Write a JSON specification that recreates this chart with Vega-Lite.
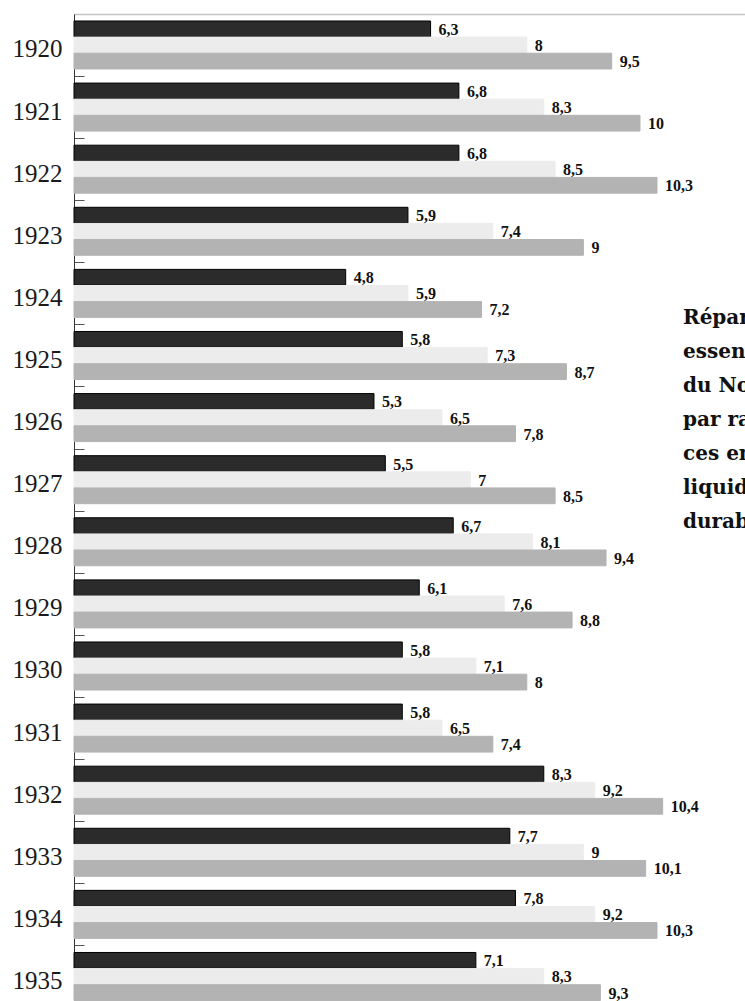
{
  "$schema": "https://vega.github.io/schema/vega-lite/v6.json",
  "width": 671,
  "height": 987,
  "autosize": {"type": "none"},
  "padding": {"left": 74, "top": 14, "right": 0, "bottom": 0},
  "background": "white",
  "config": {
    "view": {"stroke": null},
    "locale": {"number": {"decimal": ",", "thousands": ".", "grouping": [3], "currency": ["", " €"]}}
  },
  "data": {
    "values": [
      {"annee": "1920", "serie": "A", "valeur": 6.3}, {"annee": "1920", "serie": "B", "valeur": 8}, {"annee": "1920", "serie": "C", "valeur": 9.5},
      {"annee": "1921", "serie": "A", "valeur": 6.8}, {"annee": "1921", "serie": "B", "valeur": 8.3}, {"annee": "1921", "serie": "C", "valeur": 10},
      {"annee": "1922", "serie": "A", "valeur": 6.8}, {"annee": "1922", "serie": "B", "valeur": 8.5}, {"annee": "1922", "serie": "C", "valeur": 10.3},
      {"annee": "1923", "serie": "A", "valeur": 5.9}, {"annee": "1923", "serie": "B", "valeur": 7.4}, {"annee": "1923", "serie": "C", "valeur": 9},
      {"annee": "1924", "serie": "A", "valeur": 4.8}, {"annee": "1924", "serie": "B", "valeur": 5.9}, {"annee": "1924", "serie": "C", "valeur": 7.2},
      {"annee": "1925", "serie": "A", "valeur": 5.8}, {"annee": "1925", "serie": "B", "valeur": 7.3}, {"annee": "1925", "serie": "C", "valeur": 8.7},
      {"annee": "1926", "serie": "A", "valeur": 5.3}, {"annee": "1926", "serie": "B", "valeur": 6.5}, {"annee": "1926", "serie": "C", "valeur": 7.8},
      {"annee": "1927", "serie": "A", "valeur": 5.5}, {"annee": "1927", "serie": "B", "valeur": 7}, {"annee": "1927", "serie": "C", "valeur": 8.5},
      {"annee": "1928", "serie": "A", "valeur": 6.7}, {"annee": "1928", "serie": "B", "valeur": 8.1}, {"annee": "1928", "serie": "C", "valeur": 9.4},
      {"annee": "1929", "serie": "A", "valeur": 6.1}, {"annee": "1929", "serie": "B", "valeur": 7.6}, {"annee": "1929", "serie": "C", "valeur": 8.8},
      {"annee": "1930", "serie": "A", "valeur": 5.8}, {"annee": "1930", "serie": "B", "valeur": 7.1}, {"annee": "1930", "serie": "C", "valeur": 8},
      {"annee": "1931", "serie": "A", "valeur": 5.8}, {"annee": "1931", "serie": "B", "valeur": 6.5}, {"annee": "1931", "serie": "C", "valeur": 7.4},
      {"annee": "1932", "serie": "A", "valeur": 8.3}, {"annee": "1932", "serie": "B", "valeur": 9.2}, {"annee": "1932", "serie": "C", "valeur": 10.4},
      {"annee": "1933", "serie": "A", "valeur": 7.7}, {"annee": "1933", "serie": "B", "valeur": 9}, {"annee": "1933", "serie": "C", "valeur": 10.1},
      {"annee": "1934", "serie": "A", "valeur": 7.8}, {"annee": "1934", "serie": "B", "valeur": 9.2}, {"annee": "1934", "serie": "C", "valeur": 10.3},
      {"annee": "1935", "serie": "A", "valeur": 7.1}, {"annee": "1935", "serie": "B", "valeur": 8.3}, {"annee": "1935", "serie": "C", "valeur": 9.3}
    ]
  },
  "layer": [
    {
      "mark": {"type": "bar", "strokeWidth": 1},
      "encoding": {
        "y": {
          "field": "annee", "type": "ordinal",
          "scale": {"type": "band", "paddingInner": 0.227, "paddingOuter": 0.0605, "align": 0.93},
          "axis": {
            "orient": "left", "title": null,
            "domain": true, "domainColor": "#333333", "domainWidth": 1,
            "ticks": true, "tickSize": -10, "tickOffset": 31, "tickColor": "#555555", "tickWidth": 1,
            "labelPadding": 22, "labelFont": "Liberation Serif", "labelFontSize": 25,
            "labelColor": "#1a1a1a", "labelOffset": -27, "grid": false
          }
        },
        "yOffset": {"field": "serie", "type": "nominal", "scale": {"domain": ["A", "B", "C"], "paddingInner": 0.02, "paddingOuter": 0}},
        "x": {
          "field": "valeur", "type": "quantitative",
          "scale": {"domain": [0, 11.855], "nice": false, "zero": true},
          "axis": {"orient": "top", "labels": false, "ticks": false, "title": null, "grid": false,
                   "domainColor": "#888888", "domainDash": [1, 1], "domainWidth": 1.5}
        },
        "color": {"field": "serie", "type": "nominal", "scale": {"domain": ["A", "B", "C"], "range": ["#2b2b2b", "#ececec", "#b3b3b3"]}, "legend": null},
        "stroke": {"field": "serie", "type": "nominal", "scale": {"domain": ["A", "B", "C"], "range": ["#000000", "#ececec", "#b3b3b3"]}, "legend": null}
      }
    },
    {
      "mark": {"type": "text", "align": "left", "baseline": "middle", "dx": 8, "dy": 1, "font": "Liberation Serif", "fontWeight": "bold", "fontSize": 16, "color": "#111111"},
      "encoding": {
        "y": {"field": "annee", "type": "ordinal"},
        "yOffset": {"field": "serie", "type": "nominal", "scale": {"domain": ["A", "B", "C"]}},
        "x": {"field": "valeur", "type": "quantitative"},
        "text": {"field": "valeur", "type": "quantitative", "format": ".1~f"}
      }
    },
    {
      "data": {"values": [{"note": "Répartition\nessentielles\ndu Nord\npar rapport\nces en\nliquidités\ndurables"}]},
      "mark": {"type": "text", "align": "left", "baseline": "alphabetic", "lineBreak": "\n", "lineHeight": 34, "dy": 31, "font": "DejaVu Serif", "fontWeight": "bold", "fontSize": 20, "color": "#111111", "clip": true},
      "encoding": {
        "x": {"datum": 10.76, "type": "quantitative"},
        "y": {"datum": "1924", "type": "ordinal"},
        "text": {"field": "note", "type": "nominal"}
      }
    }
  ]
}
